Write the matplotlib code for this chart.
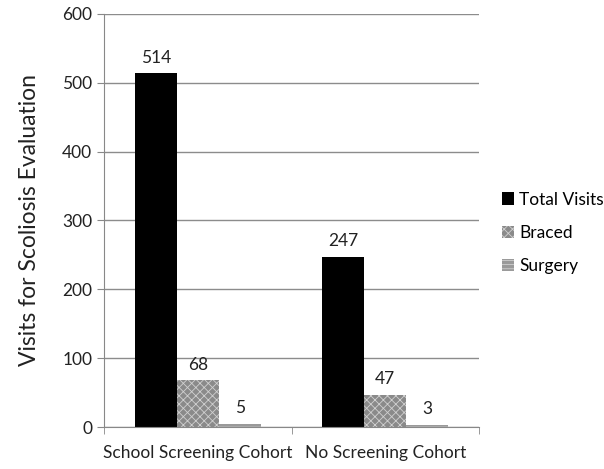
import matplotlib
matplotlib.use("Agg")
import matplotlib.pyplot as plt
import numpy as np

categories = ["School Screening Cohort", "No Screening Cohort"]
series_names = ["Total Visits", "Braced", "Surgery"]
total_visits = [514, 247]
braced = [68, 47]
surgery = [5, 3]

plt.rcParams['font.family'] = ['Lato', 'DejaVu Sans']
plt.rcParams['hatch.linewidth'] = 0.6

fig = plt.figure(figsize=(6.04, 4.69), dpi=100)
ax = fig.add_axes([104/604, 42/469, 375/604, 413/469])

x = np.arange(len(categories))
w = 0.224
styles = [
    dict(color="black", edgecolor="black", hatch=None),
    dict(color="#8a8a8a", edgecolor="#d0d0d0", hatch="xxxx"),
    dict(color="#9a9a9a", edgecolor="#cfcfcf", hatch="----"),
]
data = [total_visits, braced, surgery]
for i, (vals, name, st) in enumerate(zip(data, series_names, styles)):
    pos = x + (i - 1) * w
    ax.bar(pos, vals, width=w, color=st["color"], edgecolor=st["edgecolor"],
           hatch=st["hatch"], linewidth=0, label=name)
    for p, v in zip(pos, vals):
        ax.text(p, v + 11, str(v), ha="center", va="bottom", fontsize=12.5, color="#222222")

ax.set_xlim(-0.5, 1.5)
ax.set_ylim(0, 600)
ax.set_yticks(range(0, 601, 100))
ax.set_xticks(x)
ax.set_xticklabels(categories, fontsize=12.5, color="#222222")
ax.set_xticks([-0.5, 0.5, 1.5], minor=True)
ax.tick_params(axis="x", which="major", length=0, pad=13)
ax.tick_params(axis="x", which="minor", length=5, color="#888888")
ax.tick_params(axis="y", length=5, color="#888888", labelsize=12.5, labelcolor="#222222")
ax.yaxis.grid(True, color="#8c8c8c", linewidth=1)
ax.set_axisbelow(True)
for s in ["top", "right"]:
    ax.spines[s].set_visible(False)
for s in ["left", "bottom"]:
    ax.spines[s].set_color("#888888")
ax.set_ylabel("Visits for Scoliosis Evaluation", fontsize=16.5, color="#222222", labelpad=16)

ax.legend(loc="center left", bbox_to_anchor=(1.02, 0.47), frameon=False,
          fontsize=12.5, handlelength=0.7, handleheight=0.7, handletextpad=0.3,
          labelspacing=1.0)

fig.savefig("out.png", dpi=100)
